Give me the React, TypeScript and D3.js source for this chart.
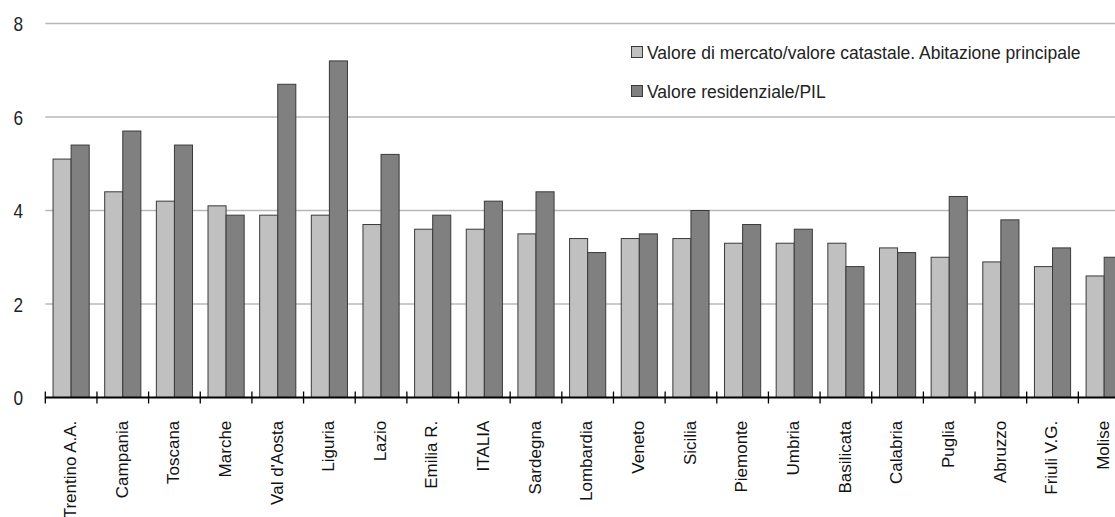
import React from "react";
import * as d3 from "d3";

const categories = [
  "Trentino A.A.", "Campania", "Toscana", "Marche", "Val d'Aosta", "Liguria", "Lazio",
  "Emilia R.", "ITALIA", "Sardegna", "Lombardia", "Veneto", "Sicilia", "Piemonte",
  "Umbria", "Basilicata", "Calabria", "Puglia", "Abruzzo", "Friuli V.G.", "Molise",
];
const mercatoCatastale = [5.1, 4.4, 4.2, 4.1, 3.9, 3.9, 3.7, 3.6, 3.6, 3.5, 3.4, 3.4, 3.4, 3.3, 3.3, 3.3, 3.2, 3.0, 2.9, 2.8, 2.6];
const residenzialePil = [5.4, 5.7, 5.4, 3.9, 6.7, 7.2, 5.2, 3.9, 4.2, 4.4, 3.1, 3.5, 4.0, 3.7, 3.6, 2.8, 3.1, 4.3, 3.8, 3.2, 3.0];
const seriesNames = ["Valore di mercato/valore catastale. Abitazione principale", "Valore residenziale/PIL"];
const yTicks = [0, 2, 4, 6, 8];

const W = 1115;
const H = 517;
const sans = "'Liberation Sans', Arial, sans-serif";
const colors = ["#c0c0c0", "#808080"];

export default function App() {
  const x = d3.scaleBand<string>().domain(categories).range([45.3, 1130]).paddingInner(0.3).paddingOuter(0.15);
  const xs = d3.scaleBand<number>().domain([0, 1]).range([0, x.bandwidth()]);
  const y = d3.scaleLinear().domain([0, 8]).range([397.5, 23.5]);
  const series = [mercatoCatastale, residenzialePil];
  const step = x.step();
  const tickXs = d3.range(categories.length + 1).map((i) => 45.3 + i * step);

  return (
    <svg width={W} height={H} style={{ position: "absolute", left: 0, top: 0, background: "#fff" }}>
      {yTicks.filter((t) => t > 0).map((t) => (
        <line key={"g" + t} x1={45.3} x2={W} y1={y(t)} y2={y(t)} stroke="#b8b8b8" strokeWidth={1.3} />
      ))}
      {yTicks.map((t) => (
        <text
          key={"yl" + t}
          transform={`translate(23,${y(t)}) scale(0.82,1)`}
          dy="0.36em"
          textAnchor="end"
          fontFamily={sans}
          fontSize={21}
          fill="#222"
        >
          {t}
        </text>
      ))}
      {categories.map((c, i) => (
        <g key={c}>
          {series.map((s, k) => (
            <rect
              key={k}
              x={(x(c) as number) + (xs(k) as number)}
              y={y(s[i])}
              width={xs.bandwidth()}
              height={y(0) - y(s[i])}
              fill={colors[k]}
              stroke="#3a3a3a"
              strokeWidth={1}
            />
          ))}
        </g>
      ))}
      <line x1={45.3} x2={W} y1={y(0)} y2={y(0)} stroke="#000" strokeWidth={2} />
      {tickXs.map((tx, i) => (
        <line key={"t" + i} x1={tx} x2={tx} y1={y(0) - 6} y2={y(0) + 6} stroke="#000" strokeWidth={1.3} />
      ))}
      {categories.map((c) => {
        const cx = (x(c) as number) + x.bandwidth() / 2;
        return (
          <text
            key={"xl" + c}
            transform={`translate(${cx},420.7) rotate(-90)`}
            textAnchor="end"
            dy="0.28em"
            fontFamily={sans}
            fontSize={17}
            fill="#111"
          >
            {c}
          </text>
        );
      })}
      {seriesNames.map((n, k) => (
        <g key={n} transform={`translate(631,${46 + k * 39})`}>
          <rect x={0.5} y={0.5} width={11} height={11} fill={colors[k]} stroke="#3a3a3a" strokeWidth={1} />
          <text x={16} y={13} fontFamily={sans} fontSize={17.5} fill="#222">
            {n}
          </text>
        </g>
      ))}
    </svg>
  );
}
